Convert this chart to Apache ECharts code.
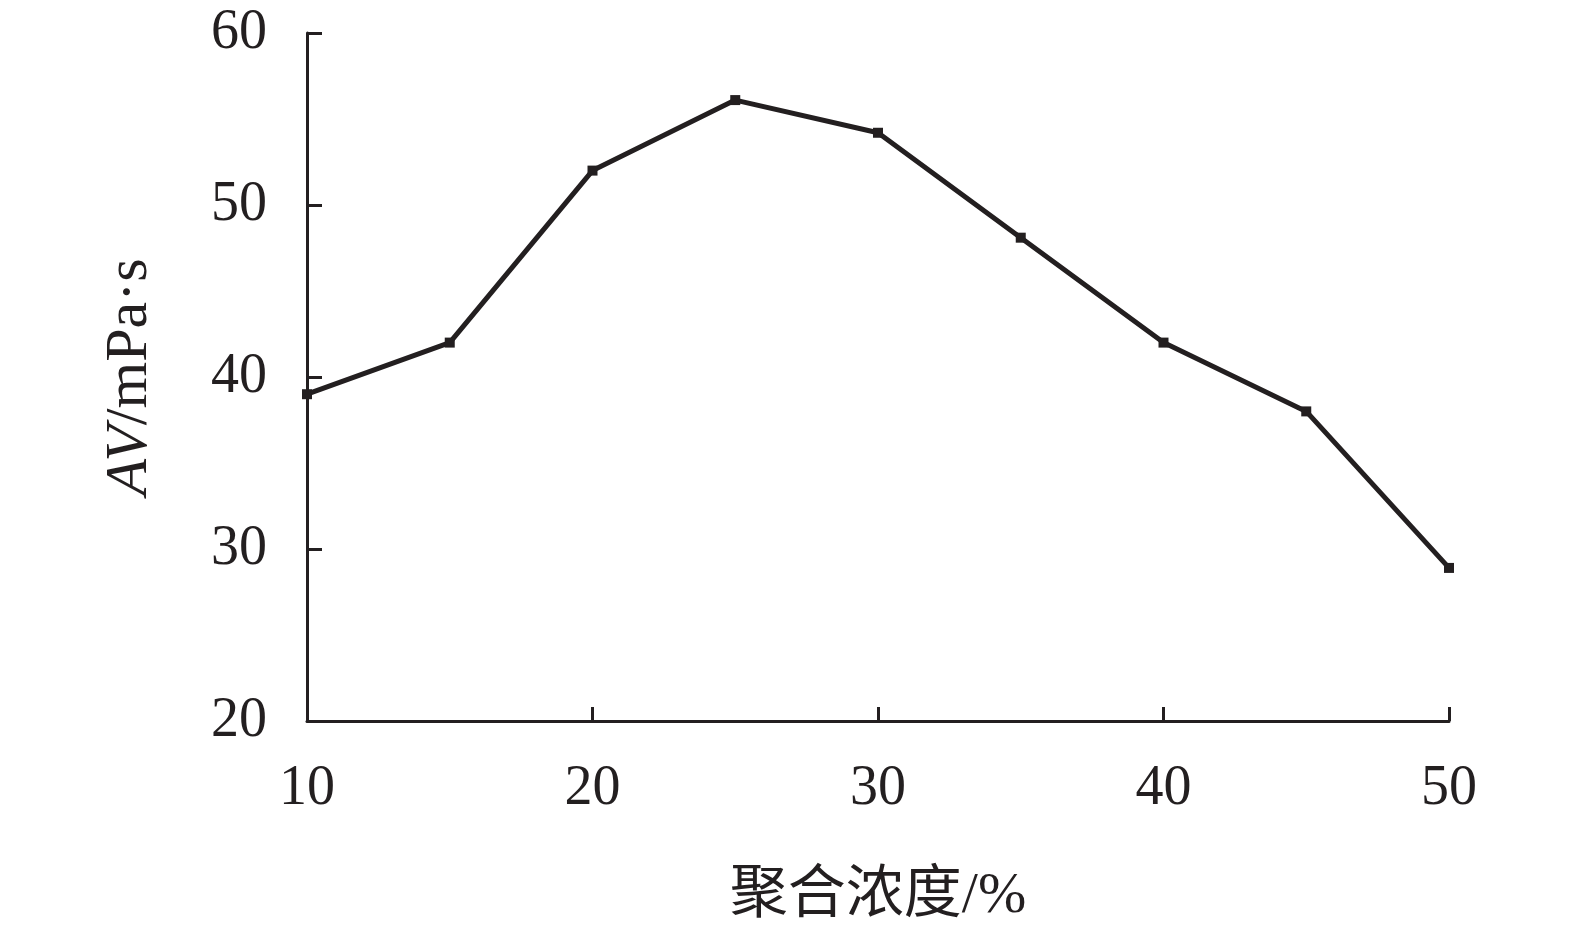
<!DOCTYPE html>
<html>
<head>
<meta charset="utf-8">
<script src="https://cdn.jsdelivr.net/npm/echarts@6/dist/echarts.min.js"></script>
<style>html,body{margin:0;padding:0;background:#fff}#c{width:1575px;height:937px}</style>
</head>
<body>
<div id="c"></div>
<script>
const xValues = [10, 15, 20, 25, 30, 35, 40, 45, 50];
const avValues = [39.0, 42.0, 52.0, 56.1, 54.2, 48.1, 42.0, 38.0, 28.9];
const xTicks = [10, 20, 30, 40, 50];
const yTicks = [20, 30, 40, 50, 60];

const chart = echarts.init(document.getElementById('c'));
const ink = '#231f20';
const serif = '"Liberation Serif","Times New Roman","Noto Sans CJK SC",serif';
chart.setOption({
  animation: false,
  backgroundColor: '#fff',
  grid: {left: 307, right: 126, top: 33, bottom: 216},
  xAxis: {
    type: 'value', min: xTicks[0], max: xTicks[xTicks.length-1], interval: 10,
    name: '聚合浓度/%', nameLocation: 'middle', nameGap: 147,
    nameTextStyle: {fontFamily: serif, fontSize: 58, color: ink},
    axisLine: {lineStyle: {color: ink, width: 3}},
    axisTick: {inside: true, length: 14, lineStyle: {color: ink, width: 3}},
    axisLabel: {margin: 40, fontFamily: serif, fontSize: 56, color: ink},
    splitLine: {show: false}
  },
  yAxis: {
    type: 'value', min: yTicks[0], max: yTicks[yTicks.length-1], interval: 10,
    name: '{i|AV}{n|/mPa·s}', nameLocation: 'middle', nameGap: 147, nameRotate: 90,
    nameTextStyle: {
      rich: {
        i: {fontFamily: serif, fontSize: 60, fontStyle: 'italic', color: ink},
        n: {fontFamily: serif, fontSize: 60, color: ink}
      }
    },
    axisLine: {show: true, lineStyle: {color: ink, width: 3}},
    axisTick: {show: true, inside: true, length: 15, lineStyle: {color: ink, width: 3}},
    axisLabel: {margin: 40, fontFamily: serif, fontSize: 56, color: ink},
    splitLine: {show: false}
  },
  series: [{
    type: 'line',
    data: xValues.map((x, i) => [x, avValues[i]]),
    symbol: 'rect', symbolSize: 10,
    itemStyle: {color: ink},
    lineStyle: {color: ink, width: 5},
    clip: false
  }]
});
</script>
</body>
</html>
